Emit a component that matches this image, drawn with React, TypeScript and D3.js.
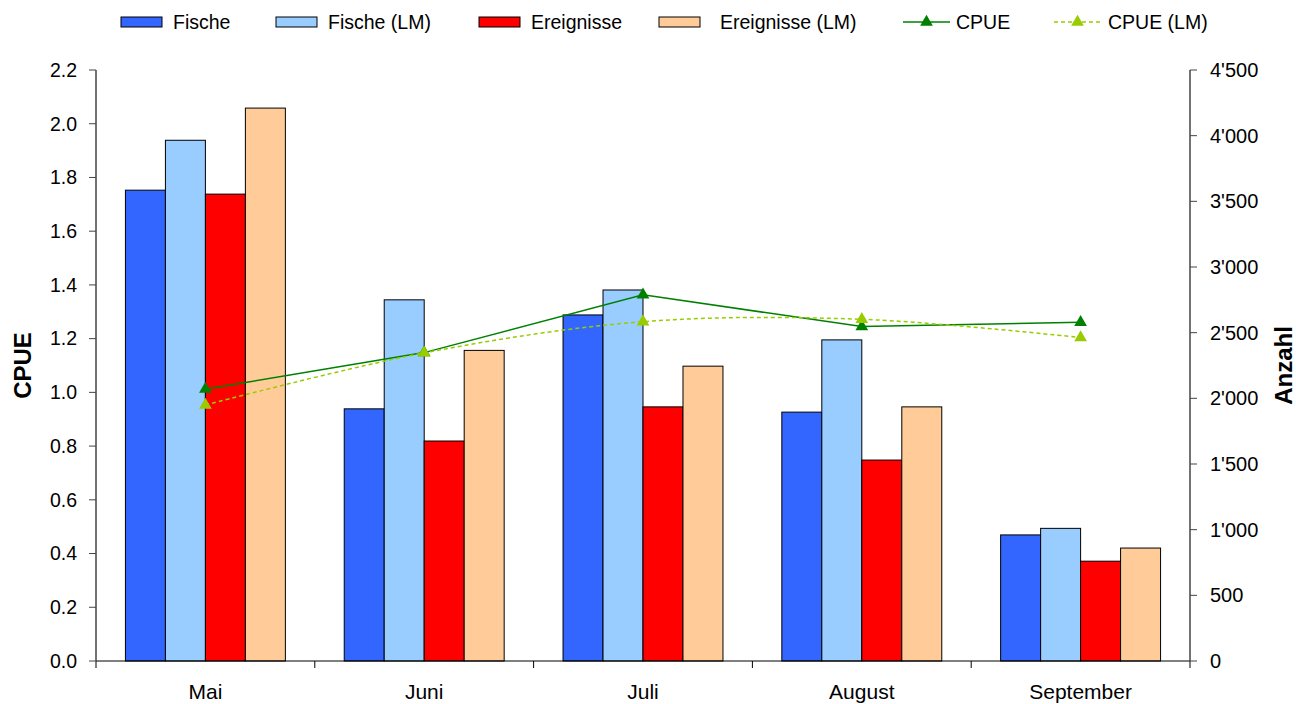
import * as d3 from "d3";
import React from "react";

// Monatswerte
const months = ["Mai", "Juni", "Juli", "August", "September"];
const fische = [3585, 1920, 2635, 1895, 960];
const fischeLM = [3965, 2750, 2825, 2445, 1010];
const ereignisse = [3555, 1675, 1935, 1530, 760];
const ereignisseLM = [4210, 2365, 2245, 1935, 860];
const cpue = [1.012, 1.148, 1.363, 1.245, 1.261];
const cpueLM = [0.953, 1.147, 1.263, 1.272, 1.204];

const leftTicks = [0, 0.2, 0.4, 0.6, 0.8, 1.0, 1.2, 1.4, 1.6, 1.8, 2.0, 2.2];
const rightTicks = [0, 500, 1000, 1500, 2000, 2500, 3000, 3500, 4000, 4500];

const barSeries = [
  { name: "Fische", values: fische, color: "#3366FF" },
  { name: "Fische (LM)", values: fischeLM, color: "#99CCFF" },
  { name: "Ereignisse", values: ereignisse, color: "#FF0000" },
  { name: "Ereignisse (LM)", values: ereignisseLM, color: "#FFCC99" },
];

const lineSeries = [
  { name: "CPUE", values: cpue, color: "#008000", dash: "", smooth: false },
  { name: "CPUE (LM)", values: cpueLM, color: "#99CC00", dash: "4,3", smooth: true },
];

const W = 1296;
const H = 704;
const margin = { top: 70, right: 106, bottom: 43, left: 96 };
const font = "'Liberation Sans', Arial, sans-serif";

export default function App() {
  const x0 = d3
    .scaleBand()
    .domain(months)
    .range([margin.left, W - margin.right])
    .paddingInner(0.269)
    .paddingOuter(0.1345);
  const x1 = d3
    .scaleBand()
    .domain(barSeries.map((s) => s.name))
    .range([0, x0.bandwidth()]);
  const yL = d3.scaleLinear().domain([0, 2.2]).range([H - margin.bottom, margin.top]);
  const yR = d3.scaleLinear().domain([0, 4500]).range([H - margin.bottom, margin.top]);

  const step = x0.step();
  const left = margin.left;
  const right = W - margin.right;
  const bottom = H - margin.bottom;
  const cx = (m: string) => x0(m)! + x0.bandwidth() / 2;

  const tri = d3.symbol().type(d3.symbolTriangle).size(70);
  const fmtR = (v: number) => d3.format(",")(v).replace(/,/g, "'");

  const legendItems = [
    { x: 121, tx: 173, i: 0 },
    { x: 276, tx: 328, i: 1 },
    { x: 479, tx: 531, i: 2 },
    { x: 659, tx: 720, i: 3 },
  ];
  const legendLines = [
    { x: 903, tx: 956, i: 0 },
    { x: 1054, tx: 1108, i: 1 },
  ];

  return (
    <svg
      width={W}
      height={H}
      style={{ position: "absolute", left: 0, top: 0, background: "#fff" }}
      fontFamily={font}
    >
      {/* Balken */}
      {barSeries.map((s) => (
        <g key={s.name}>
          {months.map((m, i) => (
            <rect
              key={m}
              x={x0(m)! + x1(s.name)!}
              y={yR(s.values[i])}
              width={x1.bandwidth()}
              height={yR(0) - yR(s.values[i])}
              fill={s.color}
              stroke="#000"
              strokeWidth={1}
            />
          ))}
        </g>
      ))}

      {/* Linien */}
      {lineSeries.map((s) => {
        const line = d3
          .line<number>()
          .x((_, i) => cx(months[i]))
          .y((d) => yL(d))
          .curve(s.smooth ? d3.curveCatmullRom.alpha(0.5) : d3.curveLinear);
        return (
          <g key={s.name}>
            <path
              d={line(s.values)!}
              fill="none"
              stroke={s.color}
              strokeWidth={1.5}
              strokeDasharray={s.dash}
            />
            {s.values.map((v, i) => (
              <path
                key={i}
                d={tri()!}
                transform={`translate(${cx(months[i])},${yL(v)})`}
                fill={s.color}
              />
            ))}
          </g>
        );
      })}

      {/* X-Achse */}
      <line x1={left} x2={right} y1={bottom} y2={bottom} stroke="#000" />
      {d3.range(months.length + 1).map((i) => (
        <line
          key={i}
          x1={left + i * step}
          x2={left + i * step}
          y1={bottom}
          y2={bottom + 7}
          stroke="#000"
        />
      ))}
      {months.map((m) => (
        <text key={m} x={cx(m)} y={699} textAnchor="middle" fontSize={21}>
          {m}
        </text>
      ))}

      {/* Linke Achse */}
      <line x1={left} x2={left} y1={margin.top} y2={bottom} stroke="#444" strokeWidth={1.5} />
      {leftTicks.map((t) => (
        <g key={t} transform={`translate(0,${yL(t)})`}>
          <line x1={left - 7} x2={left} stroke="#444" />
          <text x={left - 19} dy="0.35em" textAnchor="end" fontSize={19.5}>
            {t.toFixed(1)}
          </text>
        </g>
      ))}
      <text
        transform={`translate(31,${(margin.top + bottom) / 2}) rotate(-90)`}
        textAnchor="middle"
        fontSize={24}
        fontWeight="bold"
      >
        CPUE
      </text>

      {/* Rechte Achse */}
      <line x1={right} x2={right} y1={margin.top} y2={bottom} stroke="#444" strokeWidth={1.5} />
      {rightTicks.map((t) => (
        <g key={t} transform={`translate(0,${yR(t)})`}>
          <line x1={right} x2={right + 7} stroke="#444" />
          <text x={right + 20} dy="0.35em" textAnchor="start" fontSize={20}>
            {fmtR(t)}
          </text>
        </g>
      ))}
      <text
        transform={`translate(1292,${(margin.top + bottom) / 2}) rotate(-90)`}
        textAnchor="middle"
        fontSize={24}
        fontWeight="bold"
      >
        Anzahl
      </text>

      {/* Legende */}
      {legendItems.map((l) => (
        <g key={l.i}>
          <rect
            x={l.x}
            y={17}
            width={41}
            height={10}
            fill={barSeries[l.i].color}
            stroke="#000"
            strokeWidth={1}
          />
          <text x={l.tx} y={29} fontSize={19.5}>
            {barSeries[l.i].name}
          </text>
        </g>
      ))}
      {legendLines.map((l) => (
        <g key={l.i}>
          <line
            x1={l.x}
            x2={l.x + 47}
            y1={22}
            y2={22}
            stroke={lineSeries[l.i].color}
            strokeWidth={1.5}
            strokeDasharray={lineSeries[l.i].dash}
          />
          <path
            d={tri()!}
            transform={`translate(${l.x + 23.5},22)`}
            fill={lineSeries[l.i].color}
          />
          <text x={l.tx} y={29} fontSize={19.5}>
            {lineSeries[l.i].name}
          </text>
        </g>
      ))}
    </svg>
  );
}
